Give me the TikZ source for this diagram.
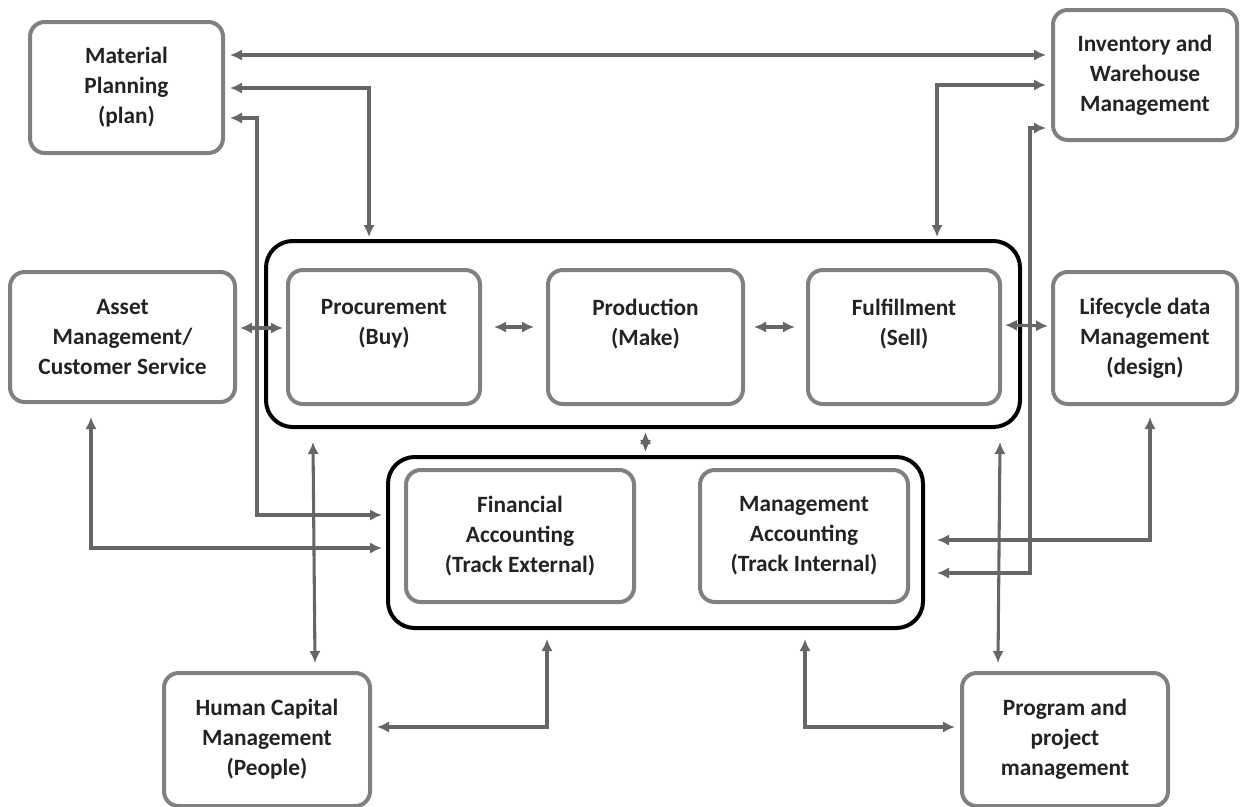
\documentclass[tikz,border=0pt]{standalone}
\usepackage{fontspec}
\setmainfont{Carlito}
\usetikzlibrary{calc}
\usetikzlibrary{arrows.meta}

\definecolor{boxgray}{RGB}{128,128,128}
\definecolor{arrowgray}{RGB}{102,102,102}
\definecolor{textdark}{RGB}{35,35,35}

\tikzset{
  boxsize/.style 2 args={minimum width=#1*0.75pt, minimum height=#2*0.75pt},
  module/.style={draw=boxgray, line width=3pt, rounded corners=11pt, inner sep=0pt, align=center, text=textdark, font=\fontsize{17.5}{22.5}\selectfont\bfseries},
  group/.style={draw=black, line width=3pt, rounded corners=20pt, inner sep=0pt},
  link/.style={draw=arrowgray, line width=2.3pt, {Latex[length=9pt,width=8.5pt]}-{Latex[length=9pt,width=8.5pt]}},
}

\begin{document}
\begin{tikzpicture}[x=0.75pt,y=0.75pt,yscale=-1,xscale=1]

    \useasboundingbox (0,0) rectangle (1243,807);

    %Shape: Rounded Rect [core group]
    \node[group, boxsize={754}{186}] (core) at (643,334) {};
    %Shape: Rounded Rect [accounting group]
    \node[group, boxsize={535}{171}] (acct) at (655.5,542.5) {};

    %Shape: Rounded Rect [outer modules]
    \node[module, boxsize={193}{131}] (mat) at (126.5,87.5) {Material\\Planning\\(plan)};
    \node[module, boxsize={184}{130}] (inv) at (1145,75) {Inventory and\\Warehouse\\Management};
    \node[module, boxsize={225}{130}] (asset) at (122.5,337) {Asset\\Management/\\Customer Service};
    \node[module, boxsize={184}{132}] (life) at (1145,338) {Lifecycle data\\Management\\(design)};
    \node[module, boxsize={206}{133}] (hcm) at (267,739.5) {Human Capital\\Management\\(People)};
    \node[module, boxsize={206}{133}] (prog) at (1065,739.5) {Program and\\project\\management};

    %Shape: Rounded Rect [core modules]
    \node[module, boxsize={192}{134}] (proc) at (384,337) {Procurement\\(Buy)\\~};
    \node[module, boxsize={195}{134}] (prod) at (645.5,337) {Production\\(Make)\\~};
    \node[module, boxsize={192}{134}] (ful) at (904,337) {Fulfillment\\(Sell)\\~};

    %Shape: Rounded Rect [accounting modules]
    \node[module, boxsize={228}{132}] (fin) at (520,536) {Financial\\Accounting\\(Track External)};
    \node[module, boxsize={208}{132}] (mgmt) at (804,536) {Management\\Accounting\\(Track Internal)};

    %Straight Lines [top links]
    \draw[link] ($(mat.east)+(5,-32.5)$) -- ($(inv.west)+(-5,-20)$);
    \draw[link] ($(mat.east)+(5,0.5)$) -| ($(core.north west)+(105,-2)$);
    \draw[link] ($(mat.east)+(5,30.5)$) -- ++(27,0) |- ($(acct.west)+(-4,-27.5)$);
    \draw[link] ($(inv.west)+(-5,10)$) -| ($(core.north east)+(-85,-2)$);
    \draw[link] ($(inv.west)+(-5,53)$) -- ++(-16,0) |- ($(acct.east)+(12,30.5)$);

    %Straight Lines [middle row]
    \draw[link] ($(asset.east)+(3,-9)$) -- ($(proc.west)+(-3,-9)$);
    \draw[link] ($(proc.east)+(12,-10)$) -- ($(prod.west)+(-12,-10)$);
    \draw[link] ($(prod.east)+(9,-10)$) -- ($(ful.west)+(-11,-10)$);
    \draw[link] ($(ful.east)+(3,-12)$) -- ($(life.west)+(-3,-12)$);

    %Straight Lines [lower links]
    \draw[link] ($(asset.south)+(-31.5,13)$) |- ($(acct.west)+(-4,5.5)$);
    \draw[link] ($(core.south west)+(49,13)$) -- ($(hcm.north)+(48,-8)$);
    \draw[link] ($(prod.south |- core.south)+(0,3)$) -- ($(prod.south |- acct.north)+(0,-3)$);
    \draw[link] ($(hcm.east)+(5,-12.5)$) -| ($(acct.south)+(-108.5,9)$);
    \draw[link] ($(acct.east)+(12,-2.5)$) -| ($(life.south)+(5,11)$);
    \draw[link] ($(core.south east)+(-22,13)$) -- ($(prog.north)+(-67,-8)$);
    \draw[link] ($(acct.south)+(149.5,9)$) |- ($(prog.west)+(-5,-12.5)$);

\end{tikzpicture}
\end{document}
